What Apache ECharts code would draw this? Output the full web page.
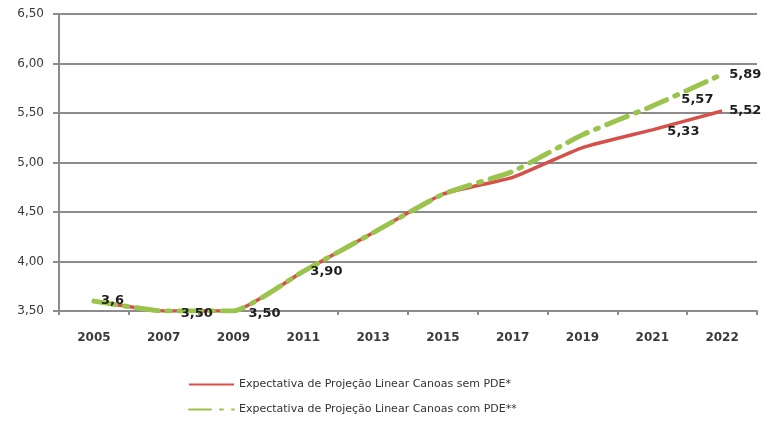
<!DOCTYPE html>
<html>
<head>
<meta charset="utf-8">
<script src="https://cdn.jsdelivr.net/npm/echarts@6/dist/echarts.min.js"></script>
<style>
  html, body { margin: 0; padding: 0; background: #fff; }
  #line { width: 771px; height: 425px; }
</style>
</head>
<body>
<div id="line"></div>
<script>
var anos = ['2005', '2007', '2009', '2011', '2013', '2015', '2017', '2019', '2021', '2022'];

// sem PDE (linha vermelha)
var semPDE = [3.6, 3.5, 3.5, 3.9, 4.29, 4.68, 4.85, 5.15, 5.33, 5.52];
var rotulosSem = ['', '', '', '', '', '', '', '', '5,33', '5,52'];

// com PDE (linha verde traço-ponto)
var comPDE = [3.6, 3.5, 3.5, 3.9, 4.29, 4.68, 4.91, 5.28, 5.57, 5.89];
var rotulosCom = ['3,6', '3,50', '3,50', '3,90', '', '', '', '', '5,57', '5,89'];

var nomeSem = 'Expectativa de Projeção Linear Canoas sem PDE*';
var nomeCom = 'Expectativa de Projeção Linear Canoas com PDE**';

var myChart = echarts.init(document.getElementById('line'));

// desloca alguns rótulos como no original
var deslocSem = { 8: [8, 2] };
var deslocCom = { 1: [10, 3], 2: [8, 3], 8: [22, -6] };

function montaDados(valores, rotulos, desloc) {
    var out = [];
    for (var i = 0; i < valores.length; i++) {
        var item = { value: valores[i] };
        if (rotulos[i]) {
            item.label = {
                show: true,
                formatter: rotulos[i],
                offset: desloc[i] || [0, 0]
            };
        }
        out.push(item);
    }
    return out;
}

var rotuloBase = {
    show: false,
    position: 'right',
    distance: 7,
    color: '#1e1e1e',
    fontFamily: 'DejaVu Sans',
    fontWeight: 'bold',
    fontSize: 13
};

var option = {
    animation: false,
    grid: {
        left: 59,
        right: 14,
        top: 14,
        bottom: 114
    },
    legend: {
        orient: 'vertical',
        left: 183,
        top: 374,
        itemWidth: 45,
        itemHeight: 4,
        itemGap: 14,
        itemStyle: { opacity: 0 },
        data: [nomeSem, nomeCom],
        textStyle: {
            color: '#333',
            fontFamily: 'DejaVu Sans',
            fontSize: 11
        }
    },
    xAxis: [{
        type: 'category',
        data: anos,
        boundaryGap: true,
        axisLine: { lineStyle: { color: '#8c8c8c', width: 2 } },
        axisTick: { show: true, length: 4, lineStyle: { color: '#8c8c8c', width: 2 } },
        axisLabel: {
            color: '#3a3a3a',
            fontFamily: 'DejaVu Sans',
            fontWeight: 'bold',
            fontSize: 12,
            margin: 21
        }
    }],
    yAxis: [{
        type: 'value',
        min: 3.5,
        max: 6.5,
        interval: 0.5,
        axisLine: { show: true, lineStyle: { color: '#8c8c8c', width: 2 } },
        axisTick: { show: true, length: 6, lineStyle: { color: '#8c8c8c', width: 2 } },
        splitLine: { lineStyle: { color: '#8c8c8c', width: 2 } },
        axisLabel: {
            color: '#3a3a3a',
            fontFamily: 'DejaVu Sans',
            fontSize: 12,
            margin: 15,
            formatter: function (v) {
                return v.toFixed(2).replace('.', ',');
            }
        }
    }],
    series: [{
        name: nomeSem,
        type: 'line',
        symbol: 'circle',
        symbolSize: 0.1,
        showSymbol: true,
        smooth: 0.15,
        data: montaDados(semPDE, rotulosSem, deslocSem),
        lineStyle: { color: '#d6504a', width: 3.5 },
        itemStyle: { color: '#d6504a' },
        label: rotuloBase,
        z: 2
    }, {
        name: nomeCom,
        type: 'line',
        symbol: 'circle',
        symbolSize: 0.1,
        showSymbol: true,
        smooth: 0.15,
        data: montaDados(comPDE, rotulosCom, deslocCom),
        lineStyle: { color: '#9bc44c', width: 5, type: [22, 9, 3, 9], cap: 'round' },
        itemStyle: { color: '#9bc44c' },
        label: rotuloBase,
        z: 3
    }]
};

myChart.setOption(option);
</script>
</body>
</html>
